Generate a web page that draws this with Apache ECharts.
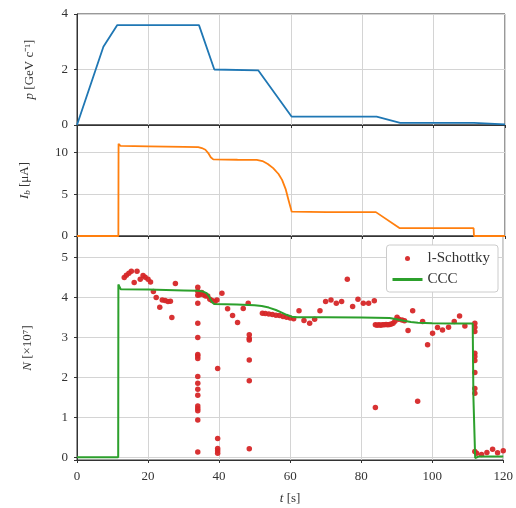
<!DOCTYPE html>
<html>
<head>
<meta charset="utf-8">
<script src="https://cdn.jsdelivr.net/npm/echarts@6/dist/echarts.min.js"></script>
<style>
  html, body { margin: 0; padding: 0; background: #fff; }
  #chart { width: 516px; height: 508px; }
</style>
</head>
<body>
<div id="chart"></div>
<script>
// momentum p [GeV/c]
const pTime = [0, 7.4, 11.3, 34.2, 38.5, 50.8, 60.2, 84, 90.6, 111.3, 111.5, 120];
const pValue = [0, 2.82, 3.6, 3.6, 2.0, 1.97, 0.3, 0.3, 0.08, 0.08, 0.02, 0.02];

// beam current Ib [uA]
const ibTime = [0, 11.6, 11.65, 12.2, 20, 30, 34, 35, 36, 36.8, 37.5, 38.2, 45, 50.4, 52, 53.5, 55, 56.5, 57.5, 58.5, 59.3, 60.2, 70, 83.8, 90.4, 111.2, 111.3, 120];
const ibValue = [0, 0, 11.0, 10.75, 10.7, 10.65, 10.6, 10.5, 10.3, 9.9, 9.4, 9.15, 9.1, 9.08, 8.95, 8.6, 8.1, 7.4, 6.7, 5.6, 4.3, 2.9, 2.85, 2.85, 0.95, 0.93, 0, 0];

// CCC particle number [1e7]
const cccTime = [0, 11.6, 11.65, 12.3, 20, 30, 34, 35.5, 36.5, 37.3, 38, 38.6, 45, 50, 52, 54, 56, 57.5, 59, 60.5, 62, 70, 80, 88, 90, 92, 94, 96, 100, 105, 111.4, 111.6, 112.1, 112.6, 113.2, 120];
const cccValue = [0, 0, 4.32, 4.2, 4.19, 4.17, 4.16, 4.14, 4.1, 4.0, 3.88, 3.83, 3.82, 3.8, 3.78, 3.74, 3.68, 3.62, 3.56, 3.51, 3.5, 3.5, 3.49, 3.48, 3.45, 3.41, 3.38, 3.36, 3.35, 3.34, 3.34, 1.5, -0.02, 0.0, 0.02, 0.02];

// l-Schottky particle number [1e7]
const schottkyTime = [
  13.3, 13.9, 14.6, 15.3, 16.1, 16.9, 17.8, 18.6, 19.2, 20.0, 20.7, 21.5, 22.3, 23.3, 24.0, 24.8, 25.6, 26.3, 26.7, 27.7,
  34.0, 34.0, 34.0, 34.0, 34.0, 34.0, 34.0, 34.0, 34.0, 34.0, 34.0, 34.0, 34.0, 34.0, 34.0, 34.0, 34.0, 34.0,
  34.5, 35.1, 35.6, 36.2, 36.8, 37.4, 38.0, 38.8, 39.4, 40.8, 42.4, 43.8, 45.2, 46.8, 48.2,
  39.6, 39.6, 39.6, 39.6, 39.6,
  48.5, 48.5, 48.5, 48.5, 48.5, 48.5,
  52.2, 53.0, 54.0, 55.0, 56.0, 57.0, 58.0, 59.0, 60.0, 61.0,
  62.5, 63.9, 65.5, 66.9, 68.4, 70.0, 71.5, 73.0, 74.5, 76.1, 77.6, 79.1, 80.6, 82.1, 83.7,
  84.0, 84.5, 85.0, 85.5, 86.0, 86.5, 87.0, 87.5, 88.0, 88.5, 89.0, 89.5, 84.0,
  90.1, 90.6, 91.5, 92.2, 93.2, 94.5, 95.9, 97.3, 98.7, 100.1, 101.5, 102.9, 104.6, 106.2, 107.7, 109.2,
  112.0, 112.0, 112.0, 112.0, 112.0, 112.0, 112.0, 112.0, 112.0, 112.0,
  112.5, 113.9, 115.4, 117.0, 118.4, 120.0
];
const schottkyN = [
  4.49, 4.55, 4.6, 4.65, 4.37, 4.65, 4.45, 4.54, 4.5, 4.45, 4.38, 4.14, 3.99, 3.75, 3.93, 3.92, 3.89, 3.9, 3.49, 4.34,
  4.25, 4.15, 4.05, 3.85, 3.35, 2.99, 2.57, 2.53, 2.47, 2.02, 1.85, 1.7, 1.55, 1.28, 1.22, 1.16, 0.93, 0.13,
  4.06, 4.12, 4.06, 4.03, 4.03, 3.95, 3.92, 3.89, 3.93, 4.1, 3.71, 3.54, 3.37, 3.72, 3.85,
  2.22, 0.47, 0.22, 0.16, 0.1,
  3.06, 2.97, 2.93, 2.43, 1.91, 0.21,
  3.6, 3.59, 3.58, 3.57, 3.55, 3.54, 3.52, 3.5, 3.48, 3.46,
  3.66, 3.42, 3.35, 3.45, 3.66, 3.89, 3.93, 3.85, 3.89, 4.45, 3.77, 3.95, 3.85, 3.85, 3.91,
  3.31, 3.3, 3.31, 3.3, 3.31, 3.31, 3.32, 3.31, 3.32, 3.33, 3.35, 3.4, 1.24,
  3.5, 3.45, 3.43, 3.41, 3.17, 3.66, 1.4, 3.39, 2.81, 3.1, 3.24, 3.18, 3.25, 3.39, 3.53, 3.28,
  3.35, 3.25, 3.14, 2.6, 2.52, 2.42, 2.12, 1.72, 1.6, 0.14,
  0.1, 0.07, 0.12, 0.2, 0.11, 0.16
];

const xTicks = [0, 20, 40, 60, 80, 100, 120];

const pair = (xs, ys) => xs.map((x, i) => [x, ys[i]]);

const textColor = '#333';
const serif = 'Liberation Serif';
const gridLine = { show: true, lineStyle: { color: '#d4d4d4', width: 1 } };
const tickStyle = { show: true, inside: false, length: 3, lineStyle: { color: '#333' } };

function xAxis(gridIndex, showLabels) {
  return {
    type: 'value', gridIndex, min: 0, max: 120, interval: 20,
    axisLine: { show: true, onZero: false, lineStyle: { color: '#333' } },
    axisTick: tickStyle,
    splitLine: gridLine,
    axisLabel: {
      show: showLabels, color: textColor, fontFamily: serif, fontSize: 13, margin: 10,
      formatter: v => xTicks.includes(v) ? String(v) : ''
    },
    name: showLabels ? '{i|t} [s]' : '',
    nameLocation: 'middle', nameGap: 32,
    nameTextStyle: {
      color: textColor, fontFamily: serif, fontSize: 13,
      rich: { i: { fontStyle: 'italic', fontFamily: serif, fontSize: 13, color: textColor } }
    }
  };
}

function yAxis(gridIndex, min, max, interval, name, rich, gap) {
  return {
    type: 'value', gridIndex, min, max, interval,
    axisLine: { show: true, onZero: false, lineStyle: { color: '#333' } },
    axisTick: tickStyle,
    splitLine: gridLine,
    axisLabel: {
      color: textColor, fontFamily: serif, fontSize: 13, margin: 9,
      formatter: v => (Math.abs(v / interval - Math.round(v / interval)) < 1e-6) ? String(Math.round(v)) : ''
    },
    name, nameLocation: 'middle', nameRotate: 90, nameGap: gap,
    nameTextStyle: { color: textColor, fontFamily: serif, fontSize: 13, rich }
  };
}

const richBase = { fontFamily: serif, fontSize: 13, color: textColor };
const chart = echarts.init(document.getElementById('chart'), null, { renderer: 'canvas' });

chart.setOption({
  animation: false,
  backgroundColor: '#fff',
  grid: [
    { left: 77, right: 11, top: 14, height: 111, show: true, borderColor: '#333', borderWidth: 1 },
    { left: 77, right: 11, top: 125, height: 111, show: true, borderColor: '#333', borderWidth: 1 },
    { left: 77, right: 11, top: 236, height: 224, show: true, borderColor: '#333', borderWidth: 1 }
  ],
  xAxis: [xAxis(0, false), xAxis(1, false), xAxis(2, true)],
  yAxis: [
    yAxis(0, 0, 4, 2, '{i|p} [GeV c⁻¹]', { i: Object.assign({ fontStyle: 'italic' }, richBase) }, 41),
    yAxis(1, 0, 13.25, 5, '{i|I}{s|b} [μA]', {
      i: Object.assign({ fontStyle: 'italic' }, richBase),
      s: { fontStyle: 'italic', fontFamily: serif, fontSize: 9, color: textColor, verticalAlign: 'bottom', padding: [6, 0, 0, 0] }
    }, 45),
    Object.assign(yAxis(2, -0.07, 5.53, 1, '{i|N} [×10⁷]', { i: Object.assign({ fontStyle: 'italic' }, richBase) }, 43), {
      interval: undefined, splitNumber: 6
    })
  ],
  legend: {
    right: 18, top: 245, orient: 'vertical',
    backgroundColor: '#fff', borderColor: '#cccccc', borderWidth: 1, borderRadius: 3,
    padding: [6, 8, 5, 6], itemGap: 6, itemWidth: 30, itemHeight: 5,
    textStyle: { fontFamily: serif, fontSize: 15, color: textColor },
    data: [
      { name: 'l-Schottky', icon: 'circle' },
      { name: 'CCC', icon: 'path://M0,0H30V3H0Z' }
    ]
  },
  series: [
    {
      name: 'p', type: 'line', xAxisIndex: 0, yAxisIndex: 0, symbol: 'none',
      lineStyle: { color: '#1f77b4', width: 1.8 }, itemStyle: { color: '#1f77b4' },
      data: pair(pTime, pValue)
    },
    {
      name: 'Ib', type: 'line', xAxisIndex: 1, yAxisIndex: 1, symbol: 'none',
      lineStyle: { color: '#ff7f0e', width: 1.8 }, itemStyle: { color: '#ff7f0e' },
      data: pair(ibTime, ibValue)
    },
    {
      name: 'l-Schottky', type: 'scatter', xAxisIndex: 2, yAxisIndex: 2,
      symbolSize: 5.5, itemStyle: { color: '#d62728', opacity: 0.95 },
      data: pair(schottkyTime, schottkyN)
    },
    {
      name: 'CCC', type: 'line', xAxisIndex: 2, yAxisIndex: 2, symbol: 'none',
      lineStyle: { color: '#2ca02c', width: 2 }, itemStyle: { color: '#2ca02c' },
      data: pair(cccTime, cccValue)
    }
  ]
});
</script>
</body>
</html>
